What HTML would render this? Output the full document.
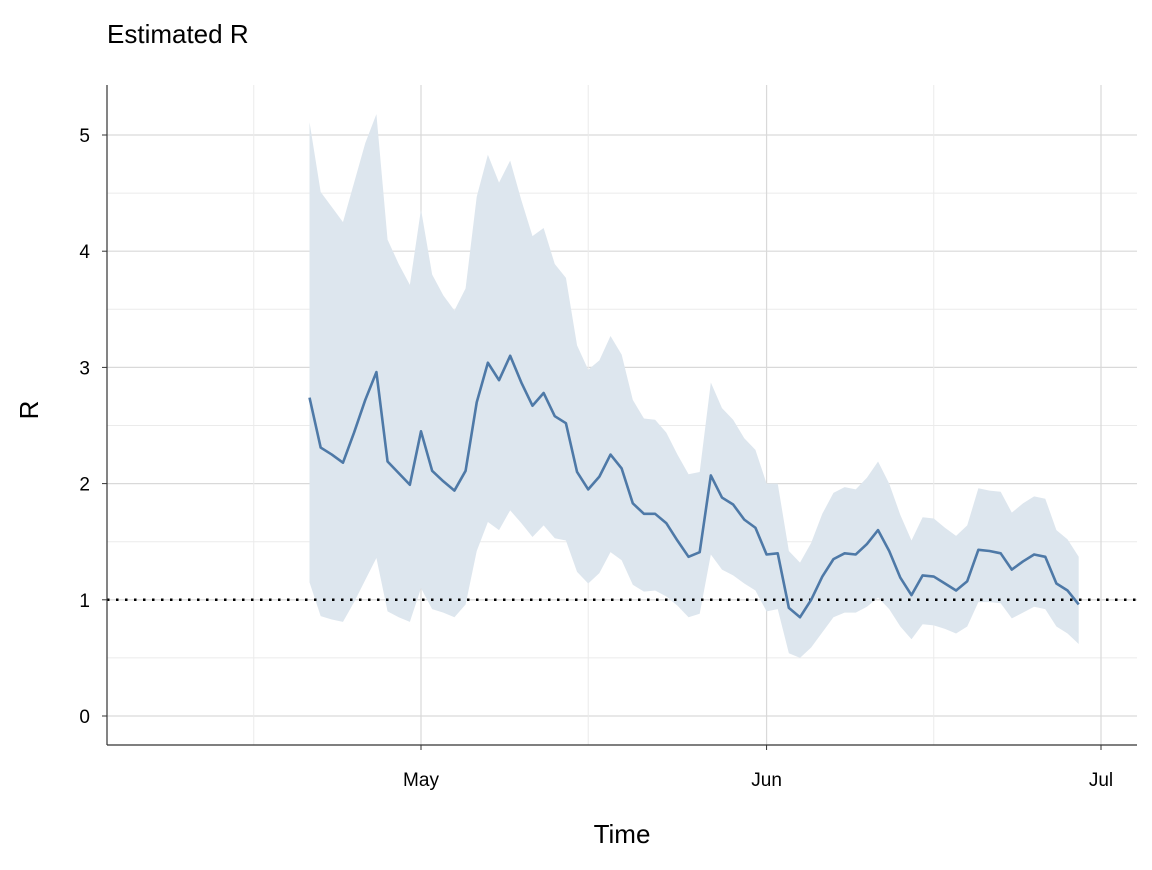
<!DOCTYPE html>
<html><head><meta charset="utf-8"><style>
body{margin:0;background:#fff}
svg text{font-family:"Liberation Sans",sans-serif}
</style></head><body>
<svg id="chart" width="1152" height="865" xmlns="http://www.w3.org/2000/svg">
<text x="107" y="43" font-size="26" fill="#000">Estimated R</text>
<g id="grid"></g><g id="marks"></g><g id="axes"></g>
<text x="622" y="843" font-size="26" text-anchor="middle">Time</text>
<text transform="translate(38,410) rotate(-90)" font-size="26" text-anchor="middle">R</text>
</svg>
<script>
const startDay = "2020-04-21";
const meanR = [2.74,2.31,2.25,2.18,2.44,2.72,2.96,2.19,2.09,1.99,2.45,2.11,2.02,1.94,2.11,2.70,3.04,2.89,3.10,2.87,2.67,2.78,2.58,2.52,2.10,1.95,2.06,2.25,2.13,1.83,1.74,1.74,1.66,1.51,1.37,1.41,2.07,1.88,1.82,1.69,1.62,1.39,1.40,0.93,0.85,1.00,1.20,1.35,1.40,1.39,1.48,1.60,1.42,1.19,1.04,1.21,1.20,1.14,1.08,1.16,1.43,1.42,1.40,1.26,1.33,1.39,1.37,1.14,1.08,0.96];
const upperR = [5.11,4.51,4.38,4.25,4.59,4.93,5.18,4.10,3.89,3.71,4.36,3.80,3.62,3.49,3.68,4.47,4.83,4.59,4.78,4.44,4.13,4.20,3.89,3.77,3.19,2.98,3.06,3.27,3.11,2.72,2.56,2.55,2.44,2.25,2.08,2.10,2.87,2.65,2.55,2.39,2.29,2.00,2.00,1.42,1.32,1.49,1.74,1.92,1.97,1.95,2.05,2.19,2.00,1.73,1.51,1.71,1.70,1.62,1.55,1.64,1.96,1.94,1.93,1.75,1.83,1.89,1.87,1.60,1.52,1.37];
const lowerR = [1.15,0.86,0.83,0.81,0.98,1.17,1.36,0.90,0.85,0.81,1.10,0.92,0.89,0.85,0.96,1.42,1.67,1.60,1.77,1.66,1.54,1.64,1.53,1.51,1.24,1.14,1.23,1.41,1.34,1.13,1.07,1.08,1.03,0.95,0.85,0.88,1.39,1.26,1.21,1.14,1.08,0.90,0.92,0.54,0.50,0.59,0.72,0.85,0.89,0.89,0.94,1.02,0.92,0.77,0.66,0.79,0.78,0.75,0.71,0.77,0.98,0.98,0.97,0.84,0.89,0.94,0.92,0.77,0.71,0.62];
const yTicks = [0,1,2,3,4,5];
const xTickLabels = ["May","Jun","Jul"];
const xTickDates = ["2020-05-01","2020-06-01","2020-07-01"];
const xMinorDates = ["2020-04-16","2020-05-16","2020-06-16"];
const refLine = 1;

const NS="http://www.w3.org/2000/svg";
const L=107,R=1137,T=85,B=745;
const dayMs=86400000, t0=Date.parse(startDay);
const dayOf=s=>(Date.parse(s)-t0)/dayMs;
const dA=dayOf(xTickDates[0]), dB=dayOf(xTickDates[2]);
const xS=d=>421+(d-dA)*(1101-421)/(dB-dA);
const yS=v=>716-v*116.2;
function mk(tag,attrs,parent){const e=document.createElementNS(NS,tag);for(const k in attrs)e.setAttribute(k,attrs[k]);parent.appendChild(e);return e;}
const grid=document.getElementById('grid'),marks=document.getElementById('marks'),axes=document.getElementById('axes');
for(let i=0;i<yTicks.length;i++){
  const y=yS(yTicks[i]);
  const g=mk('line',{x1:L,x2:R,y1:y,y2:y,stroke:'#d9d9d9','stroke-width':1.2},grid);
  
  
  if(i<yTicks.length-1){const ym=yS((yTicks[i]+yTicks[i+1])/2);
    const m=mk('line',{x1:L,x2:R,y1:ym,y2:ym,stroke:'#ebebeb','stroke-width':1},grid);
    
    }
  const t=mk('text',{x:90,y:y+7,'font-size':19,'text-anchor':'end',fill:'#000'},axes);t.textContent=yTicks[i];
  
  
}
const xs=xTickDates.map(s=>xS(dayOf(s)));
xMinorDates.forEach(s=>{const x=xS(dayOf(s));const m=mk('line',{x1:x,x2:x,y1:T,y2:B,stroke:'#ebebeb','stroke-width':1},grid);
  
  });
xs.forEach((x,i)=>{const g=mk('line',{x1:x,x2:x,y1:T,y2:B,stroke:'#d9d9d9','stroke-width':1.2},grid);
  
  
  mk('line',{x1:x,x2:x,y1:B,y2:B+5,stroke:'#333','stroke-width':1},axes);
  const t=mk('text',{x:x,y:786,'font-size':19,'text-anchor':'middle'},axes);t.textContent=xTickLabels[i];
  
  });
let pts=upperR.map((v,i)=>xS(i)+','+yS(v));
for(let i=lowerR.length-1;i>=0;i--)pts.push(xS(i)+','+yS(lowerR[i]));
const band=mk('polygon',{points:pts.join(' '),fill:'#dde6ee'},marks);


const ry=yS(refLine);
const ref=mk('line',{x1:L,x2:R,y1:ry,y2:ry,stroke:'#000','stroke-width':2.5,'stroke-dasharray':'2.5 6.5'},marks);


const line=mk('polyline',{points:meanR.map((v,i)=>xS(i)+','+yS(v)).join(' '),fill:'none',stroke:'#4e79a7','stroke-width':2.6,'stroke-linejoin':'round'},marks);


const ya=mk('line',{x1:L,x2:L,y1:T,y2:B,stroke:'#333','stroke-width':1.2},axes);


const xa=mk('line',{x1:L,x2:R,y1:B,y2:B,stroke:'#333','stroke-width':1.2},axes);


yTicks.forEach(v=>mk('line',{x1:L-5,x2:L,y1:yS(v),y2:yS(v),stroke:'#333'},axes));
</script>
</body></html>
